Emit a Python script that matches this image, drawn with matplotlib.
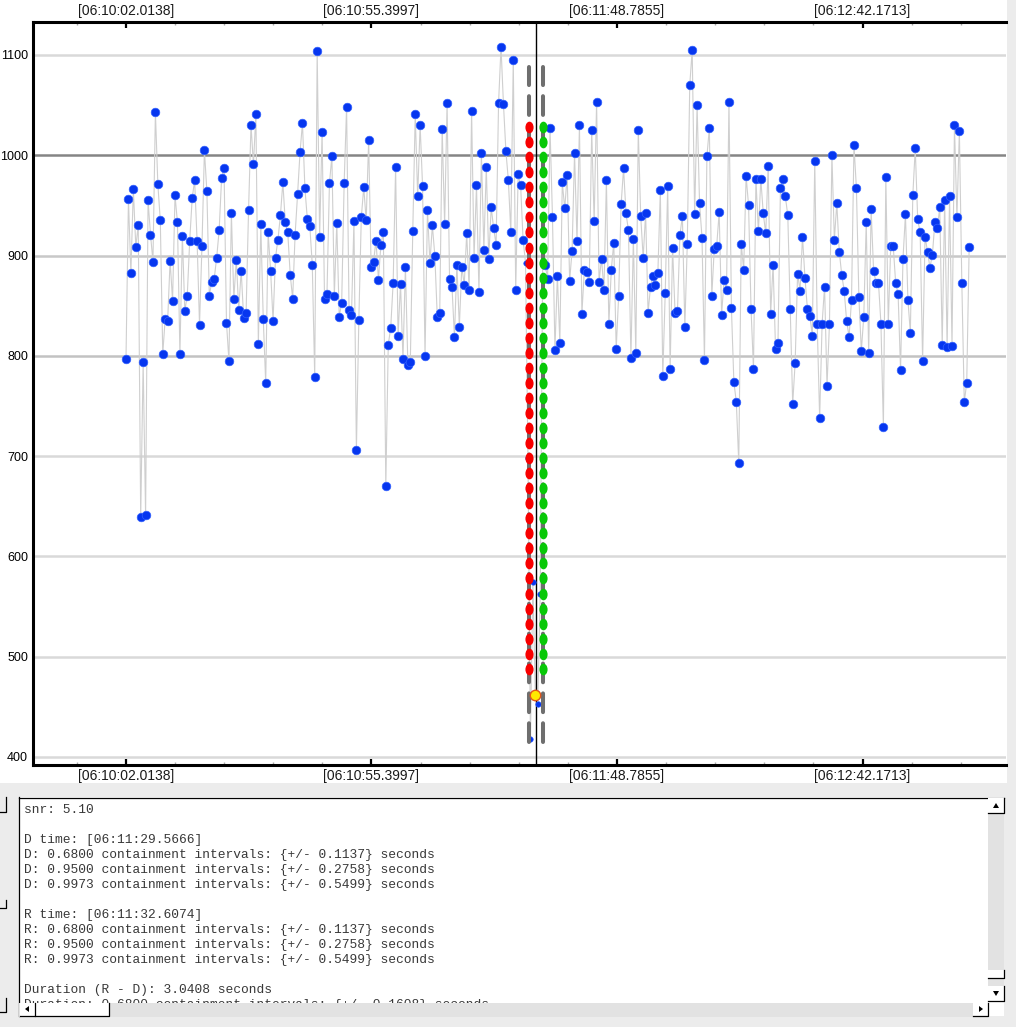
import matplotlib
matplotlib.use("Agg")
import matplotlib.pyplot as plt
import matplotlib.patches as mpatches
import matplotlib.path as mpath
from matplotlib.ticker import MultipleLocator
import numpy as np

plt.rcParams["font.family"] = ["Liberation Sans", "DejaVu Sans"]
plt.rcParams["lines.scale_dashes"] = False

# ---- data ----
t_step = 0.5330          # seconds between samples
# light curve, split in pieces
flux_a = [797, 956, 883, 966, 909, 930, 639, 794, 641, 955, 921, 894, 1043, 971, 935, 802, 837, 835,
          895, 855, 960, 933, 802, 920, 845, 860, 915, 957, 975, 915, 831, 910, 1005, 964, 860, 874,
          877, 898, 925, 977, 987, 833, 795, 942, 857, 896, 846, 885, 838, 843, 945, 1030, 991, 1041,
          812, 931, 837, 773, 923, 885, 835, 898, 916, 940, 973, 933, 923]
flux_b = [881, 857, 921, 961, 1003, 1032, 967, 936, 929, 891, 779, 1104, 919, 1023, 857, 862, 972,
          999, 860, 932, 839, 853, 972, 1048, 846, 841, 934, 706, 836, 938, 968, 935, 1015, 889, 894,
          915, 876, 911, 923, 670, 811, 828, 873, 988, 820, 872, 797, 889, 791, 794, 924, 1041, 959,
          1030, 969, 800, 945, 893, 930, 900, 839, 843, 1026, 931, 1052, 877, 869, 819, 891, 829,
          889, 871, 922]
flux_c = [866, 1044, 898, 970, 864, 1002, 906, 988, 897, 948, 927, 911, 1052, 1108, 1051, 1004, 975,
          923, 1095, 866, 981, 970, 916]
flux_event = [893, 698, 418, 574, 462, 453, 563, 893]
flux_d = [891, 877, 1027, 938, 806, 880, 813, 973, 947, 980, 875, 905, 1002, 915, 1030, 842, 886, 884,
          874, 1025, 934, 1053, 874, 897, 866, 975, 832, 886, 913, 807, 860, 951, 987, 942, 925, 798,
          917, 803, 1025, 939, 898, 942]
flux_e = [843, 869, 880, 871, 883, 965, 780, 863, 969, 787, 908, 843, 845, 921, 939, 829, 912, 1070,
          1105, 941, 1050, 952, 918, 796, 999, 1027, 860, 907, 910, 943, 841, 876, 866, 1053, 848, 774,
          754, 693, 912, 886, 979, 950, 847, 787, 976, 924, 976, 942, 922, 989, 842, 891, 807, 813, 967,
          976, 959, 940, 847, 752, 793, 882, 865, 919, 878, 847, 840, 820, 994, 832, 738]
flux_f = [832, 869, 770, 832, 1000, 916, 952, 904, 881, 865, 835, 819, 856, 1010, 967, 859, 805, 839,
          933, 803, 946, 885, 873, 873, 832, 729, 978, 832, 910, 910, 873, 862, 786, 897, 941, 856, 823,
          960, 1007, 936, 923, 795, 919, 904, 888, 901, 933, 927, 948, 811, 955, 809, 959, 810, 1030,
          938, 1024, 873, 754, 773, 909]

D_time = 87.5528         # 06:11:29.5666 relative to first sample
R_time = 90.5936         # 06:11:32.6074
selected_idx = 167       # highlighted (yellow) sample
event_idx = [163, 164, 165, 166, 167, 168, 169, 170]

edge_levels = [1028, 1013, 998, 983, 968, 953, 938, 923, 908, 893, 878, 863, 848, 833, 818, 803, 788,
               773, 758, 743, 728, 713, 698, 683, 668, 653, 638, 623, 608, 593, 578, 563, 548, 533,
               518, 503, 488]
edge_span = [415, 1088]

x_tick_pos = [0.0, 53.3859, 106.7717, 160.1575]
x_tick_labels = ["[06:10:02.0138]", "[06:10:55.3997]", "[06:11:48.7855]", "[06:12:42.1713]"]
y_ticks = [400, 500, 600, 700, 800, 900, 1000, 1100]

panel_lines = [
    "snr: 5.10",
    "",
    "D time: [06:11:29.5666]",
    "D: 0.6800 containment intervals: {+/- 0.1137} seconds",
    "D: 0.9500 containment intervals: {+/- 0.2758} seconds",
    "D: 0.9973 containment intervals: {+/- 0.5499} seconds",
    "",
    "R time: [06:11:32.6074]",
    "R: 0.6800 containment intervals: {+/- 0.1137} seconds",
    "R: 0.9500 containment intervals: {+/- 0.2758} seconds",
    "R: 0.9973 containment intervals: {+/- 0.5499} seconds",
    "",
    "Duration (R - D): 3.0408 seconds",
    "Duration: 0.6800 containment intervals: {+/- 0.1608} seconds",
]

flux = np.array(flux_a + flux_b + flux_c + flux_event + flux_d + flux_e + flux_f, dtype=float)
t = np.arange(len(flux)) * t_step

W, H = 1016, 1027
fig = plt.figure(figsize=(W / 100, H / 100), dpi=100, facecolor="#ececec")

# ---- window background / text panel (pixel coords) ----
bg = fig.add_axes([0, 0, 1, 1], zorder=0)
bg.set_xlim(0, W)
bg.set_ylim(H, 0)
bg.axis("off")
bg.add_patch(mpatches.Rectangle((0, 0), 1007, 783, fc="white", ec="none"))
bg.add_patch(mpatches.Rectangle((19, 797), 985, 219, fc="white", ec="none"))
bg.plot([19, 1004], [797.5, 797.5], color="black", lw=0.9)
bg.plot([19, 19], [797, 1016], color="black", lw=0.9)

for i, line in enumerate(panel_lines):
    bg.text(24, 810 + 15 * i, line, family=["Liberation Mono", "DejaVu Sans Mono"],
            fontsize=9.25, color="#383838", va="center", ha="left")

# scrollbars
stip = "#e2e2e2"
bg.add_patch(mpatches.Rectangle((988, 797), 16, 205, fc=stip, ec="none", zorder=3))
bg.add_patch(mpatches.Rectangle((19, 1003), 969, 14, fc=stip, ec="none", zorder=3))
for (x0, y0, w, h) in [(988, 798, 16, 15), (988, 970, 16, 8), (988, 986, 16, 15),
                       (20, 1003, 15, 13), (35, 1003, 74, 13), (973, 1003, 15, 13)]:
    bg.add_patch(mpatches.Rectangle((x0, y0), w, h, fc="white", ec="none", zorder=4))
    bg.plot([x0 + w, x0 + w, x0], [y0, y0 + h, y0 + h], color="black", lw=0.9, zorder=5)
bg.add_patch(mpatches.Polygon([[993, 808], [999, 808], [996, 803]], fc="black", zorder=6))
bg.add_patch(mpatches.Polygon([[993, 991], [999, 991], [996, 996]], fc="black", zorder=6))
bg.add_patch(mpatches.Polygon([[29, 1006], [29, 1012], [25, 1009]], fc="black", zorder=6))
bg.add_patch(mpatches.Polygon([[979, 1006], [979, 1012], [983, 1009]], fc="black", zorder=6))
# bits of the neighbouring panel on the far left
for (y0, y1) in [(797, 812), (900, 908), (998, 1012)]:
    bg.plot([6, 6, 0], [y0, y1, y1], color="black", lw=0.9)

# ---- main chart ----
ax = fig.add_axes([33 / W, 1 - 765 / H, (1006 - 33) / W, (765 - 22) / H], zorder=2)
ax.set_facecolor("white")
ax.set_xlim(-20.22, 191.36)
ax.set_ylim(392.0, 1132.9)

grid_colors = {400: "#d9d9d9", 500: "#d9d9d9", 600: "#d9d9d9", 700: "#d9d9d9",
               800: "#c2c2c2", 900: "#c8c8c8", 1000: "#858585", 1100: "#d9d9d9"}
for yv in y_ticks:
    ax.axhline(yv, color=grid_colors[yv], lw=1.8, zorder=1)

mid = (D_time + R_time) / 2
ax.axvline(mid, color="black", lw=1.0, zorder=2.5)

ax.plot(t, flux, color="#cfcfcf", lw=0.8, zorder=2)
normal = np.ones(len(flux), dtype=bool)
normal[event_idx] = False
ax.plot(t[normal], flux[normal], "o", ms=6.2, mfc="#0636ef", mec="#3160ff", mew=0.5, ls="none", zorder=3)
ax.plot(t[event_idx], flux[event_idx], "o", ms=4.0, mfc="#0636ef", mec="#3160ff", mew=0.4, ls="none",
        zorder=3)

for tt in (D_time, R_time):
    ax.plot([tt, tt], edge_span, color="#6e6e6e", lw=2.9, dashes=(13.5, 8.0),
            dash_capstyle="round", zorder=4)

circ = mpath.Path.unit_circle()
ellipse = mpath.Path(circ.vertices * np.array([0.7, 1.0]), circ.codes)
ax.plot([D_time] * len(edge_levels), edge_levels, ls="none", marker=ellipse, ms=8.4,
        mfc="#f80000", mec="none", zorder=5)
ax.plot([R_time] * len(edge_levels), edge_levels, ls="none", marker=ellipse, ms=8.4,
        mfc="#08c808", mec="none", zorder=5)
ax.plot(t[selected_idx], flux[selected_idx], "o", ms=7.5, mfc="#ffea00", mec="#e2561a", mew=1.0,
        zorder=6)

for side in ("left", "top", "bottom"):
    ax.spines[side].set_linewidth(2.2)
    ax.spines[side].set_color("black")
ax.spines["right"].set_visible(False)

ax.set_xticks(x_tick_pos)
ax.set_xticklabels(x_tick_labels)
ax.xaxis.set_minor_locator(MultipleLocator(x_tick_pos[1] / 5))
ax.tick_params(axis="x", which="major", direction="in", length=4, width=1.6, color="black",
               top=True, bottom=True, labeltop=True, labelbottom=True, labelsize=10, pad=3,
               labelcolor="#1a1a1a")
ax.tick_params(axis="x", which="minor", direction="in", length=2.5, width=1.0, color="#a8a8a8",
               top=True, bottom=True)
ax.set_yticks(y_ticks)
ax.tick_params(axis="y", length=0, pad=3.5, labelsize=9, labelcolor="black")

fig.savefig("out.png", dpi=100, facecolor=fig.get_facecolor())
